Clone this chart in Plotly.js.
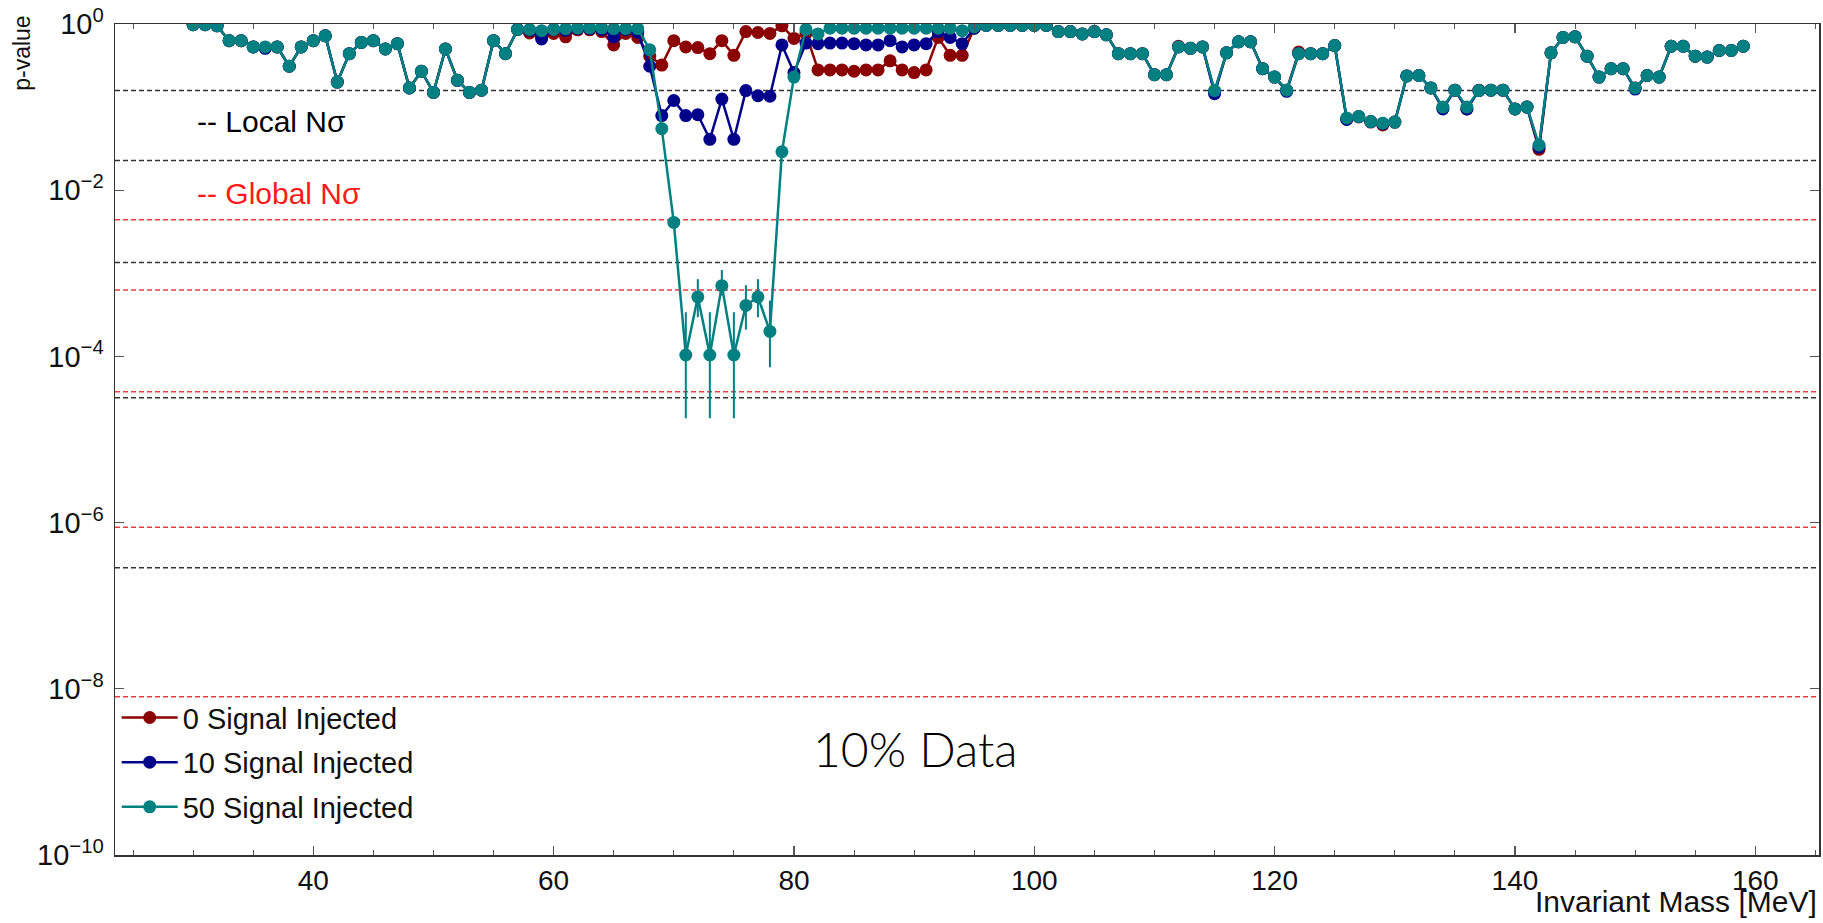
<!DOCTYPE html>
<html><head><meta charset="utf-8">
<script src="https://cdn.plot.ly/plotly-3.0.1.min.js"></script>
<style>html,body{margin:0;padding:0;background:#fff}#chart{width:1823px;height:923px}</style>
</head><body><div id="chart"></div>
<script>
// Invariant mass points [MeV]
const mass = [30,31,32,33,34,35,36,37,38,39,40,41,42,43,44,45,46,47,48,49,
  50,51,52,53,54,55,56,57,58,59,60,61,62,63,64,65,66,67,68,69,
  70,71,72,73,74,75,76,77,78,79,80,81,82,83,84,85,86,87,88,89,
  90,91,92,93,94,95,96,97,98,99,100,101,102,103,104,105,106,107,108,109,
  110,111,112,113,114,115,116,117,118,119,120,121,122,123,124,125,126,127,128,129,
  130,131,132,133,134,135,136,137,138,139,140,141,142,143,144,145,146,147,148,149,
  150,151,152,153,154,155,156,157,158,159];

// p-values, 0 signal injected
const pSig0 = [0.98,0.98,0.95,0.63,0.63,0.53,0.52,0.53,0.31,0.53,0.63,0.72,0.20,0.44,0.60,0.63,0.50,0.58,0.17,0.27,
  0.15,0.50,0.21,0.15,0.16,0.63,0.44,0.86,0.78,0.70,0.77,0.70,0.85,0.85,0.81,0.56,0.77,0.69,0.41,0.32,
  0.63,0.53,0.52,0.44,0.63,0.42,0.81,0.79,0.77,0.95,0.67,0.77,0.28,0.28,0.28,0.27,0.28,0.28,0.36,0.28,
  0.26,0.28,0.69,0.42,0.42,0.89,0.96,0.96,0.96,0.96,0.96,0.96,0.81,0.81,0.76,0.81,0.74,0.44,0.44,0.44,
  0.245,0.245,0.54,0.51,0.53,0.155,0.45,0.61,0.61,0.29,0.23,0.16,0.46,0.44,0.44,0.55,0.072,0.076,0.066,0.061,
  0.066,0.237,0.24,0.17,0.098,0.16,0.095,0.16,0.16,0.16,0.095,0.10,0.031,0.45,0.69,0.70,0.41,0.23,0.29,0.29,
  0.17,0.24,0.23,0.54,0.54,0.41,0.40,0.48,0.48,0.54];

// p-values, 10 signal injected
const pSig10 = [0.98,0.98,0.95,0.63,0.63,0.53,0.51,0.53,0.31,0.53,0.63,0.72,0.20,0.44,0.60,0.63,0.50,0.58,0.17,0.27,
  0.15,0.50,0.21,0.15,0.16,0.63,0.44,0.86,0.84,0.66,0.86,0.84,0.88,0.88,0.86,0.70,0.86,0.80,0.31,0.079,
  0.12,0.079,0.081,0.041,0.125,0.041,0.158,0.137,0.135,0.56,0.26,0.59,0.58,0.59,0.59,0.58,0.56,0.56,0.63,0.53,
  0.56,0.58,0.81,0.69,0.58,0.89,0.96,0.96,0.96,0.96,0.96,0.96,0.81,0.81,0.76,0.81,0.74,0.44,0.44,0.44,
  0.245,0.245,0.53,0.51,0.53,0.145,0.45,0.61,0.61,0.29,0.23,0.155,0.44,0.44,0.44,0.55,0.071,0.077,0.067,0.063,
  0.066,0.237,0.24,0.17,0.095,0.16,0.095,0.158,0.16,0.16,0.095,0.10,0.033,0.45,0.69,0.70,0.41,0.23,0.29,0.29,
  0.165,0.24,0.23,0.54,0.54,0.41,0.40,0.48,0.48,0.54];

// p-values, 50 signal injected
const pSig50 = [0.98,0.98,0.95,0.63,0.63,0.53,0.53,0.53,0.31,0.53,0.63,0.72,0.20,0.44,0.60,0.63,0.50,0.58,0.17,0.27,
  0.15,0.50,0.21,0.15,0.16,0.63,0.44,0.86,0.86,0.83,0.86,0.88,0.90,0.90,0.90,0.88,0.88,0.88,0.49,0.055,
  0.0041,1.04e-4,5.2e-4,1.04e-4,7.1e-4,1.04e-4,4.1e-4,5.2e-4,2.0e-4,0.029,0.23,0.86,0.76,0.89,0.89,0.89,0.89,0.89,0.89,0.89,
  0.89,0.89,0.89,0.89,0.83,0.92,0.96,0.96,0.96,0.96,0.96,0.96,0.81,0.81,0.76,0.81,0.74,0.44,0.44,0.44,
  0.245,0.245,0.53,0.51,0.53,0.158,0.45,0.61,0.61,0.29,0.23,0.16,0.44,0.44,0.44,0.55,0.074,0.077,0.067,0.064,
  0.066,0.237,0.24,0.17,0.10,0.16,0.10,0.158,0.16,0.16,0.095,0.10,0.035,0.45,0.69,0.70,0.41,0.23,0.29,0.29,
  0.17,0.24,0.23,0.54,0.54,0.41,0.40,0.48,0.48,0.54];

// visible error bars (50 signal injected): upper and lower ends
const errMass = [71,72,73,74,75,76,77,78];
const errHigh = [3.4e-4,8.5e-4,3.4e-4,1.1e-3,3.4e-4,7.2e-4,8.5e-4,4.7e-4];
const errLow  = [1.8e-5,2.96e-4,1.8e-5,5.4e-4,1.8e-5,2.1e-4,2.96e-4,7.4e-5];

// reference lines
const localLines  = [0.1587,0.02275,0.00135,3.17e-5,2.87e-7];
const globalLines = [0.0044,6.3e-4,3.75e-5,8.8e-7,8.0e-9];

const seriesNames = ['0 Signal Injected','10 Signal Injected','50 Signal Injected'];
const seriesColors = ['#8b0000','#00008b','#008080'];

const yTickVals = [1e-10,1e-8,1e-6,1e-4,1e-2,1];
const yTickText = ['10<sup>−10</sup>','10<sup>−8</sup>','10<sup>−6</sup>','10<sup>−4</sup>','10<sup>−2</sup>','10<sup>0</sup>'];

const plus = mass.map((m,i)=>{const k=errMass.indexOf(m);return k<0?0:errHigh[k]-pSig50[i];});
const minus = mass.map((m,i)=>{const k=errMass.indexOf(m);return k<0?0:pSig50[i]-errLow[k];});

const allY = [pSig0,pSig10,pSig50];
const traces = allY.map((ys,i)=>({
  x: mass, y: ys, type:'scatter', mode:'lines+markers', name: seriesNames[i],
  legendgroup:'g'+i,
  line:{color:seriesColors[i], width:2.5},
  marker:{color:seriesColors[i], size:13},
  error_y: i===2 ? {type:'data', symmetric:false, array:plus, arrayminus:minus, color:seriesColors[i], thickness:2, width:0} : {visible:false}
}));

const shapes = [];
localLines.forEach(v=>shapes.push({type:'line',xref:'paper',x0:0,x1:1,yref:'y',y0:v,y1:v,layer:'below',
  line:{color:'#333',width:1.5,dash:'5px,3px'}}));
globalLines.forEach(v=>shapes.push({type:'line',xref:'paper',x0:0,x1:1,yref:'y',y0:v,y1:v,layer:'below',
  line:{color:'#f23a3a',width:1.5,dash:'5px,3px'}}));

const font = '"Liberation Sans", Arial, Helvetica, sans-serif';
const layout = {
  width:1823, height:923,
  margin:{l:115, r:4, t:24, b:68},
  paper_bgcolor:'#fff', plot_bgcolor:'#fff',
  font:{family:font, color:'#000'},
  showlegend:true,
  legend:{x:0.001, y:0.196, xanchor:'left', yanchor:'top', bgcolor:'rgba(0,0,0,0)',
    font:{size:29, family:font, color:'#111'}, itemwidth:56, tracegroupgap:4},
  xaxis:{type:'linear', range:[23.5,165.3], showgrid:false, zeroline:false,
    showline:true, linecolor:'#333', linewidth:1.5, mirror:'allticks',
    ticks:'inside', ticklen:9, tickwidth:1.2, tickcolor:'#555', tick0:0, dtick:20,
    tickfont:{size:28, family:font, color:'#111'},
    minor:{ticks:'inside', ticklen:5, tickwidth:1, tickcolor:'#555', dtick:5, tick0:0, showgrid:false}},
  yaxis:{type:'log', range:[-10,0], showgrid:false, zeroline:false,
    showline:true, linecolor:'#333', linewidth:1.5, mirror:'allticks',
    ticks:'inside', ticklen:9, tickwidth:1.2, tickcolor:'#555',
    tickmode:'array', tickvals:yTickVals, ticktext:yTickText, ticklabelstandoff:4,
    tickfont:{size:29, family:font, color:'#111'}},
  shapes: shapes,
  annotations:[
    {text:'Invariant Mass [MeV]', xref:'paper', yref:'paper', x:1, y:-0.056, xanchor:'right', yanchor:'middle',
      showarrow:false, font:{size:30, family:font, color:'#111'}},
    {text:'p-value', xref:'paper', yref:'paper', x:-0.055, y:1.012, xanchor:'center', yanchor:'top', textangle:-90,
      showarrow:false, font:{size:23, family:font, color:'#111'}},
    {text:'-- Local Nσ', xref:'paper', yref:'paper', x:0.0469, y:0.883, xanchor:'left', yanchor:'middle',
      showarrow:false, font:{size:30, family:font, color:'#000'}},
    {text:'-- Global Nσ', xref:'paper', yref:'paper', x:0.0469, y:0.7966, xanchor:'left', yanchor:'middle',
      showarrow:false, font:{size:30, family:font, color:'#ff1a1a'}},
    {text:'10% Data', xref:'paper', yref:'paper', x:0.4695, y:0.128, xanchor:'center', yanchor:'middle',
      showarrow:false, font:{size:48, family:'Lato, "Open Sans", sans-serif', weight:300, color:'#000'}}
  ]
};
Plotly.newPlot('chart', traces, layout, {displayModeBar:false, staticPlot:true});
</script>
</body></html>
